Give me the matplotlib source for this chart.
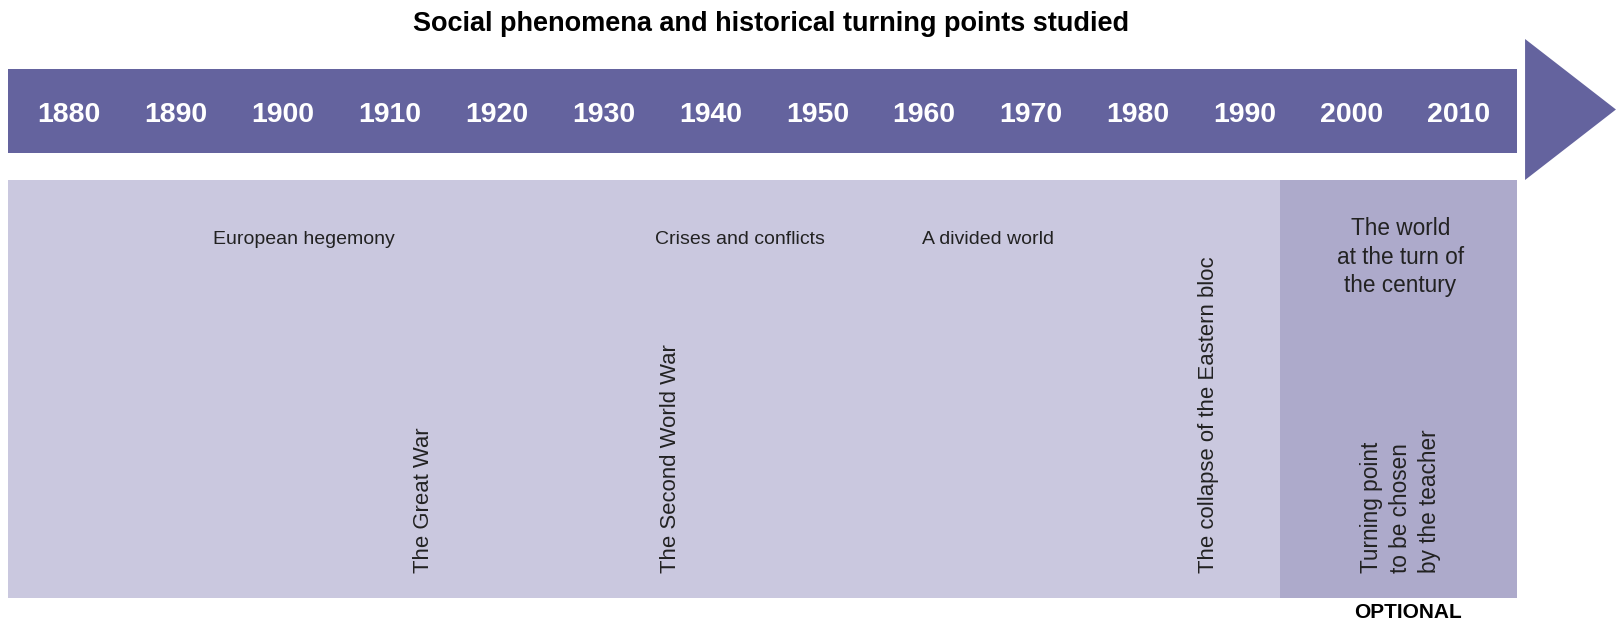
import matplotlib
matplotlib.use('Agg')
import matplotlib.pyplot as plt
from matplotlib.patches import Rectangle, Polygon

# decade ticks shown on the arrow
years = [1880, 1890, 1900, 1910, 1920, 1930, 1940, 1950, 1960, 1970, 1980, 1990, 2000, 2010]

# themes written horizontally (label, centre year)
period_labels = ['European hegemony', 'Crises and conflicts', 'A divided world']
period_years = [1902.0, 1942.8, 1966.0]

# turning points written vertically (label, year)
turning_labels = ['The Great War', 'The Second World War', 'The collapse of the Eastern bloc']
turning_years = [1913.2, 1936.3, 1986.6]

# optional block
optional_start = 1993.3
optional_end = 2015.4
optional_theme = 'The world\nat the turn of\nthe century'
optional_turning = 'Turning point\nto be chosen\nby the teacher'

timeline_start = 1874.3
arrow_tip = 2024.7

title = 'Social phenomena and historical turning points studied'

band_color = '#64639e'
light_color = '#cac8df'
optional_color = '#adaacb'

plt.rcParams['font.family'] = ['Liberation Sans', 'DejaVu Sans']

fig = plt.figure(figsize=(16.17, 6.23), dpi=100)
ax = fig.add_axes([0, 0, 1, 1])
ax.set_xlim(1873.55, 2024.8)
ax.set_ylim(623, 0)
ax.axis('off')

# main arrow band
ax.add_patch(Rectangle((timeline_start, 69), optional_end - timeline_start, 84,
                       color=band_color, lw=0))
ax.add_patch(Polygon([(2016.2, 39), (arrow_tip, 109.5), (2016.2, 180)],
                     closed=True, color=band_color, lw=0))

# content area
ax.add_patch(Rectangle((timeline_start, 180), optional_start - timeline_start, 418,
                       color=light_color, lw=0))
ax.add_patch(Rectangle((optional_start, 180), optional_end - optional_start, 418,
                       color=optional_color, lw=0))

for y in years:
    ax.text(y, 115, str(y), color='white', fontsize=20.5, fontweight='bold',
            ha='center', va='center')

ax.text(0.477, 0.962, title, transform=ax.transAxes, fontsize=19.5,
        fontweight='bold', ha='center', va='center')

for lab, yr in zip(period_labels, period_years):
    ax.text(yr, 239, lab, fontsize=14, ha='center', va='center', color='#222222')

for lab, yr in zip(turning_labels, turning_years):
    ax.text(yr, 573, lab, fontsize=15.9, rotation=90, ha='center', va='bottom',
            color='#222222')

mid_opt = (optional_start + optional_end) / 2
ax.text(mid_opt + 0.2, 257, optional_theme, fontsize=16.3, ha='center', va='center',
        linespacing=1.3, color='#222222')
ax.text(mid_opt + 0.2, 573, optional_turning, fontsize=16.3, rotation=90,
        ha='center', va='bottom', multialignment='left', linespacing=1.35,
        color='#222222')
ax.text(mid_opt + 0.9, 612, 'OPTIONAL', fontsize=15, fontweight='bold',
        ha='center', va='center')

fig.savefig('out.png', dpi=100)
